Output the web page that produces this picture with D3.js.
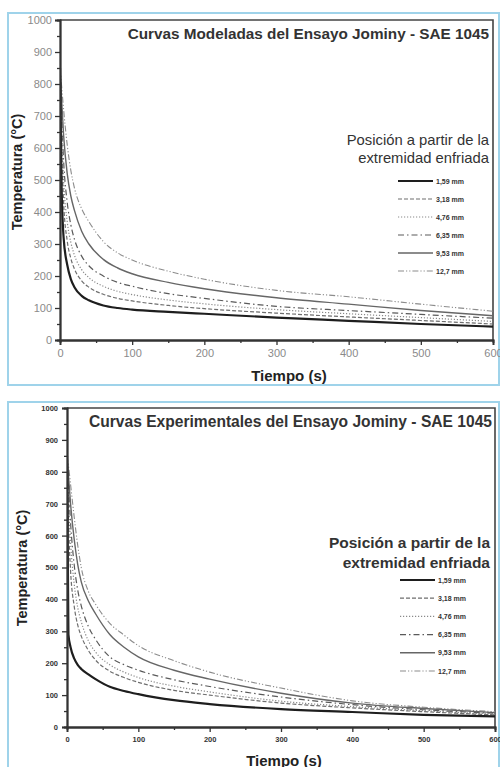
<!DOCTYPE html>
<html>
<head>
<meta charset="utf-8">
<script src="https://cdn.jsdelivr.net/npm/d3@7"></script>
<style>
  html, body { margin: 0; padding: 0; background: #fff; }
  svg { display: block; font-family: "Liberation Sans", Arial, sans-serif; }
</style>
</head>
<body>
<svg id="chart" width="500" height="767"></svg>
<script>
// Sampling times (s) shared by every cooling curve
const times = [0, 2, 5, 10, 15, 20, 30, 40, 60, 80, 100, 150, 200, 300, 400, 500, 600];

// Distance from the quenched end of the Jominy bar
const positions = ["1,59 mm", "3,18 mm", "4,76 mm", "6,35 mm", "9,53 mm", "12,7 mm"];

// Modelled temperatures (°C)
const model159 = [850, 500, 320, 235, 190, 165, 138, 124, 108, 100, 95, 88, 82, 70, 60, 50, 42];
const model318 = [850, 620, 430, 310, 255, 222, 185, 165, 143, 130, 122, 108, 98, 84, 72, 61, 50];
const model476 = [850, 680, 500, 370, 305, 265, 220, 195, 168, 152, 142, 125, 113, 95, 82, 70, 58];
const model635 = [850, 720, 560, 430, 360, 315, 262, 232, 200, 180, 168, 145, 130, 105, 92, 80, 68];
const model953 = [850, 760, 640, 520, 450, 405, 340, 300, 252, 225, 207, 180, 160, 132, 112, 92, 76];
const model127 = [850, 800, 720, 610, 530, 475, 410, 370, 308, 272, 250, 215, 190, 155, 135, 112, 90];

// Measured temperatures (°C)
const exp159 = [850, 290, 250, 215, 195, 182, 165, 150, 126, 113, 103, 84, 72, 56, 47, 38, 33];
const exp318 = [850, 650, 490, 380, 320, 285, 240, 210, 175, 155, 140, 115, 100, 75, 60, 48, 38];
const exp476 = [850, 720, 580, 450, 375, 330, 270, 235, 195, 172, 155, 128, 110, 81, 64, 51, 40];
const exp635 = [850, 760, 640, 510, 430, 380, 315, 275, 220, 195, 178, 148, 127, 94, 70, 54, 43];
const exp953 = [850, 790, 700, 590, 510, 455, 395, 355, 290, 250, 220, 178, 150, 106, 75, 58, 45];
const exp127 = [850, 820, 760, 660, 570, 500, 425, 385, 325, 288, 255, 208, 172, 122, 82, 62, 48];

// Axis ticks
const xTicks = [0, 100, 200, 300, 400, 500, 600];
const xMinorTicks = [50, 150, 250, 350, 450, 550];
const yTicks = [0, 100, 200, 300, 400, 500, 600, 700, 800, 900, 1000];
const yMinorTicks = [50, 150, 250, 350, 450, 550, 650, 750, 850, 950];

// Line style per position
const styles = [
  { stroke: "#1e1e1e", width: 2.2, dash: null },
  { stroke: "#6e6e6e", width: 1.2, dash: "4,2" },
  { stroke: "#8a8a8a", width: 1.2, dash: "1.2,1.8" },
  { stroke: "#5a5a5a", width: 1.2, dash: "6,3,1.5,3" },
  { stroke: "#666666", width: 1.4, dash: null },
  { stroke: "#8c8c8c", width: 1.1, dash: "6,2,1.2,2,1.2,2" }
];

const svg = d3.select("#chart");

function drawPanel(p) {
  const g = svg.append("g");

  // light-blue outer frame
  g.append("rect")
    .attr("x", p.frame[0]).attr("y", p.frame[1])
    .attr("width", p.frame[2]).attr("height", p.frame[3])
    .attr("fill", "none").attr("stroke", "#9fd3ea").attr("stroke-width", 2);

  const x = d3.scaleLinear().domain([0, 600]).range([p.left, p.right]);
  const y = d3.scaleLinear().domain([0, 1000]).range([p.bottom, p.top]);

  // top and right borders of the plot box
  g.append("path")
    .attr("d", `M${p.left},${p.top}H${p.right}V${p.bottom}`)
    .attr("fill", "none").attr("stroke", "#444").attr("stroke-width", 1.6);

  // curves
  const line = d3.line()
    .x((d, i) => x(times[i]))
    .y(d => y(d))
    .curve(d3.curveMonotoneX);

  const clipId = "clip" + p.id;
  g.append("clipPath").attr("id", clipId)
    .append("rect").attr("x", p.left).attr("y", p.top)
    .attr("width", p.right - p.left).attr("height", p.bottom - p.top);

  const curves = g.append("g").attr("clip-path", `url(#${clipId})`);
  p.series.slice().reverse().forEach((vals, ri) => {
    const i = p.series.length - 1 - ri;
    const s = styles[i];
    curves.append("path")
      .datum(vals)
      .attr("d", line)
      .attr("fill", "none")
      .attr("stroke", s.stroke)
      .attr("stroke-width", s.width)
      .attr("stroke-dasharray", s.dash);
  });

  // axes
  const xAxis = d3.axisBottom(x).tickValues(xTicks).tickSize(5).tickPadding(p.xPad).tickFormat(d3.format("d"));
  const xMinor = d3.axisBottom(x).tickValues(xMinorTicks).tickSize(3).tickFormat("");
  const yAxis = d3.axisLeft(y).tickValues(yTicks).tickSize(5).tickPadding(p.yPad).tickFormat(d3.format("d"));
  const yMinor = d3.axisLeft(y).tickValues(yMinorTicks).tickSize(3).tickFormat("");

  const styleAxis = sel => {
    sel.select(".domain").attr("stroke", "#333").attr("stroke-width", 1.8);
    sel.selectAll(".tick line").attr("stroke", "#333").attr("stroke-width", 1.3);
    sel.selectAll(".tick text")
      .attr("fill", p.tickColor)
      .style("font-size", p.tickSize + "px")
      .style("font-weight", p.tickWeight)
      .style("font-family", "'Liberation Sans', Arial, sans-serif");
  };

  g.append("g").attr("transform", `translate(0,${p.bottom})`).call(xMinor).call(styleAxis);
  g.append("g").attr("transform", `translate(0,${p.bottom})`).call(xAxis).call(styleAxis);
  g.append("g").attr("transform", `translate(${p.left},0)`).call(yMinor).call(styleAxis);
  g.append("g").attr("transform", `translate(${p.left},0)`).call(yAxis).call(styleAxis);

  // titles
  g.append("text")
    .attr("x", p.titleX).attr("y", p.titleY)
    .attr("text-anchor", "end")
    .attr("fill", "#333")
    .style("font-size", p.titleSize + "px").style("font-weight", "bold")
    .text(p.title);

  g.append("text")
    .attr("transform", `translate(${p.yTitleX},${p.yTitleY}) rotate(-90)`)
    .attr("text-anchor", "middle")
    .attr("fill", "#222")
    .style("font-size", "14.5px").style("font-weight", "bold")
    .text("Temperatura (°C)");

  g.append("text")
    .attr("x", p.xTitleX).attr("y", p.xTitleY)
    .attr("text-anchor", "middle")
    .attr("fill", "#222")
    .style("font-size", "15px").style("font-weight", "bold")
    .text("Tiempo (s)");

  // legend
  const lg = g.append("g");
  p.legendTitle.forEach((t, k) => {
    lg.append("text")
      .attr("x", p.legendRight).attr("y", p.legendTitleY + k * p.legendTitleGap)
      .attr("text-anchor", "end")
      .attr("fill", "#333")
      .style("font-size", p.legendTitleSize + "px")
      .style("font-weight", p.legendTitleWeight)
      .text(t);
  });
  positions.forEach((name, i) => {
    const yy = p.legendY + i * p.legendGap;
    const s = styles[i];
    lg.append("line")
      .attr("x1", p.legendX1).attr("x2", p.legendX2)
      .attr("y1", yy).attr("y2", yy)
      .attr("stroke", s.stroke).attr("stroke-width", s.width)
      .attr("stroke-dasharray", s.dash);
    lg.append("text")
      .attr("x", p.legendX2 + 3).attr("y", yy + 2.5)
      .attr("fill", "#333")
      .style("font-size", "7px").style("font-weight", "bold")
      .text(name);
  });
}

drawPanel({
  id: "top",
  frame: [8, 13, 491, 372],
  left: 60, right: 493, top: 20, bottom: 340,
  series: [model159, model318, model476, model635, model953, model127],
  title: "Curvas Modeladas del Ensayo Jominy - SAE 1045",
  titleX: 489, titleY: 39, titleSize: 15.3,
  yTitleX: 22, yTitleY: 172, xTitleX: 289, xTitleY: 381,
  tickColor: "#8a8a8a", tickSize: 11, tickWeight: "normal", xPad: 4, yPad: 3,
  legendTitle: ["Posición a partir de la", "extremidad enfriada"],
  legendRight: 489, legendTitleY: 145, legendTitleGap: 18,
  legendTitleSize: 14.8, legendTitleWeight: "normal",
  legendX1: 398, legendX2: 433, legendY: 181, legendGap: 18
});

drawPanel({
  id: "bottom",
  frame: [8, 402, 491, 380],
  left: 67, right: 495, top: 408, bottom: 727,
  series: [exp159, exp318, exp476, exp635, exp953, exp127],
  title: "Curvas Experimentales del Ensayo Jominy - SAE 1045",
  titleX: 492, titleY: 427, titleSize: 15.6,
  yTitleX: 27, yTitleY: 568, xTitleX: 284, xTitleY: 766,
  tickColor: "#333", tickSize: 7.5, tickWeight: "bold", xPad: 5, yPad: 4,
  legendTitle: ["Posición a partir de la", "extremidad enfriada"],
  legendRight: 490, legendTitleY: 548, legendTitleGap: 20,
  legendTitleSize: 15.5, legendTitleWeight: "bold",
  legendX1: 400, legendX2: 435, legendY: 580, legendGap: 18.2
});
</script>
</body>
</html>
